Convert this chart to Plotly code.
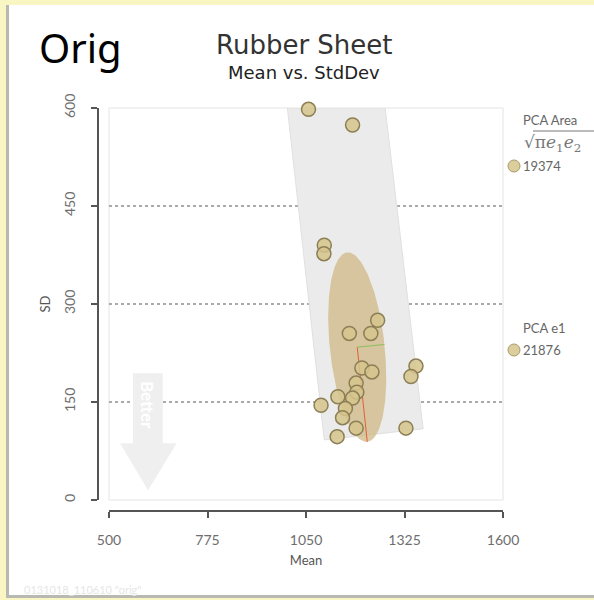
import numpy as np
import plotly.graph_objects as go

# ---- data -------------------------------------------------------------
mean_vals = [1057, 1180, 1101, 1100, 1250, 1171, 1231, 1206, 1234, 1357, 1343,
             1190, 1192, 1139, 1180, 1092, 1160, 1152, 1190, 1329, 1137]
sd_vals = [598, 574, 390, 377, 275, 255, 255, 202, 196, 205, 189,
           179, 165, 158, 156, 145, 140, 126, 110, 110, 97]

x_ticks = [500, 775, 1050, 1325, 1600]
y_ticks = [0, 150, 300, 450, 600]
grid_levels = [150, 300, 450]

# PCA ellipse: centre plus the two semi-axis vectors (data units)
pca_center = (1193, 234)
pca_axis1 = (28, -145)
pca_axis2 = (76, 4)

# tolerance band (rotated rectangle, clipped by the plot top)
band_mean = [998, 1271, 1377, 1101]
band_sd = [600, 600, 109, 92]

pca_area_value = "19374"
pca_e1_value = "21876"

# ---- page geometry (pixels) ------------------------------------------
W, H = 594, 600
L, R, T, B = 98, 91, 108, 89          # margins; axis lines sit at the paper edges
PW, PH = W - L - R, H - T - B
GAP = 11                                # offset between axis lines and the panel


def px(x):
    return (x - L) / PW


def py(y):
    return (H - B - y) / PH


POINT_FILL = "rgba(214,196,140,0.85)"
POINT_EDGE = "#8c7f55"
SANS = "Lato, DejaVu Sans, sans-serif"
TICK_FONT = dict(family=SANS, size=14, color="#6e6e6e")

fig = go.Figure()

# gray band
fig.add_trace(go.Scatter(
    x=band_mean + [band_mean[0]], y=band_sd + [band_sd[0]],
    mode="lines", fill="toself", fillcolor="#ebebeb",
    line=dict(color="#e0e0e0", width=1), hoverinfo="skip", showlegend=False))

# PCA ellipse
t = np.linspace(0, 2 * np.pi, 200)
ex = pca_center[0] + np.cos(t) * pca_axis1[0] + np.sin(t) * pca_axis2[0]
ey = pca_center[1] + np.cos(t) * pca_axis1[1] + np.sin(t) * pca_axis2[1]
fig.add_trace(go.Scatter(
    x=ex, y=ey, mode="lines", fill="toself",
    fillcolor="rgba(205,182,128,0.72)", line=dict(width=0),
    hoverinfo="skip", showlegend=False))

# semi-axes
fig.add_trace(go.Scatter(
    x=[pca_center[0], pca_center[0] + pca_axis1[0]],
    y=[pca_center[1], pca_center[1] + pca_axis1[1]],
    mode="lines", line=dict(color="#e2603a", width=1), showlegend=False))
fig.add_trace(go.Scatter(
    x=[pca_center[0], pca_center[0] + pca_axis2[0]],
    y=[pca_center[1], pca_center[1] + pca_axis2[1]],
    mode="lines", line=dict(color="#8cc05a", width=1), showlegend=False))

# samples
fig.add_trace(go.Scatter(
    x=mean_vals, y=sd_vals, mode="markers", cliponaxis=False,
    marker=dict(size=14, color=POINT_FILL, line=dict(color=POINT_EDGE, width=1.5)),
    showlegend=False))

shapes = []
# yellow slide background + white card with drop shadow
shapes.append(dict(type="rect", xref="paper", yref="paper", layer="below",
                   x0=px(6), x1=px(W + 5), y0=py(5), y1=py(598),
                   fillcolor="#b9b9b4", line=dict(width=0)))
shapes.append(dict(type="rect", xref="paper", yref="paper", layer="below",
                   x0=px(9), x1=px(W + 5), y0=py(5), y1=py(595),
                   fillcolor="white", line=dict(width=0)))
# panel outline
shapes.append(dict(type="rect", xref="x domain", yref="y domain", layer="below",
                   x0=0, x1=1, y0=0, y1=1, line=dict(color="#e4e4e4", width=1)))
# dotted reference lines
for g in grid_levels:
    shapes.append(dict(type="line", xref="x domain", yref="y", layer="below",
                       x0=0, x1=1, y0=g, y1=g,
                       line=dict(color="#8e8e8e", width=1.5, dash="dot")))
# "Better" arrow
shapes.append(dict(type="path", xref="x", yref="y", layer="below",
                   path="M 567 194 L 650 194 L 650 87 L 689 87 L 609 15 L 531 87 L 567 87 Z",
                   fillcolor="#efefef", line=dict(width=0)))
# legend markers on the right
for y0, y1 in ((160, 172), (344, 356)):
    shapes.append(dict(type="circle", xref="paper", yref="paper",
                       x0=px(508), x1=px(520), y0=py(y0), y1=py(y1),
                       fillcolor=POINT_FILL, line=dict(color="#a8996a", width=1)))
# radical overbar
shapes.append(dict(type="line", xref="paper", yref="paper",
                   x0=px(533), x1=px(600), y0=py(131), y1=py(131),
                   line=dict(color="#777", width=1)))

ann = []


def text(x, y, s, size, color="#666", family=SANS, xanchor="center", angle=0):
    ann.append(dict(x=px(x), y=py(y), xref="paper", yref="paper", text=s,
                    showarrow=False, xanchor=xanchor, yanchor="middle",
                    textangle=angle, font=dict(size=size, color=color, family=family)))


text(37, 48, "Orig", 40, color="#000", family="Noto Sans, sans-serif", xanchor="left")
text(304, 45, "Rubber Sheet", 26, color="#333", family="DejaVu Sans, sans-serif")
text(304, 72, "Mean vs. StdDev", 18, color="#222", family="DejaVu Sans, sans-serif")
text(148, 405, "<b>Better</b>", 17, color="white", angle=90)
text(521, 120, "PCA Area", 13, xanchor="left")
text(522, 143, "√π<i>e</i><sub>1</sub><i>e</i><sub>2</sub>", 17,
     color="#777", family="DejaVu Serif, serif", xanchor="left")
text(521, 166, pca_area_value, 13, xanchor="left")
text(521, 328, "PCA e1", 13, xanchor="left")
text(521, 350, pca_e1_value, 13, xanchor="left")
text(22, 589, '0131018_110610 "orig"', 11, color="#e6e6e6", xanchor="left")

fig.update_layout(
    width=W, height=H,
    margin=dict(l=L, r=R, t=T, b=B, pad=0),
    paper_bgcolor="#faf6c3", plot_bgcolor="white",
    shapes=shapes, annotations=ann,
    xaxis=dict(range=[500, 1600], domain=[GAP / PW, 1], anchor="free", position=0,
               tickvals=x_ticks, ticktext=[str(v) for v in x_ticks],
               showgrid=False, zeroline=False,
               showline=True, linecolor="#555", linewidth=1.5,
               ticks="outside", ticklen=6, tickwidth=1.5, tickcolor="#555",
               ticklabelstandoff=10, tickfont=TICK_FONT,
               title=dict(text="Mean", font=dict(size=13, color="#555", family=SANS),
                          standoff=8)),
    yaxis=dict(range=[0, 600], domain=[GAP / PH, 1], anchor="free", position=0,
               tickvals=y_ticks, ticktext=[str(v) for v in y_ticks],
               tickangle=-90,
               showgrid=False, zeroline=False,
               showline=True, linecolor="#555", linewidth=1.5,
               ticks="outside", ticklen=6, tickwidth=1.5, tickcolor="#555",
               ticklabelstandoff=11, tickfont=TICK_FONT,
               title=dict(text="SD", font=dict(size=13, color="#555", family=SANS),
                          standoff=6)),
)

fig.write_html("out.html", config={"displayModeBar": False})
